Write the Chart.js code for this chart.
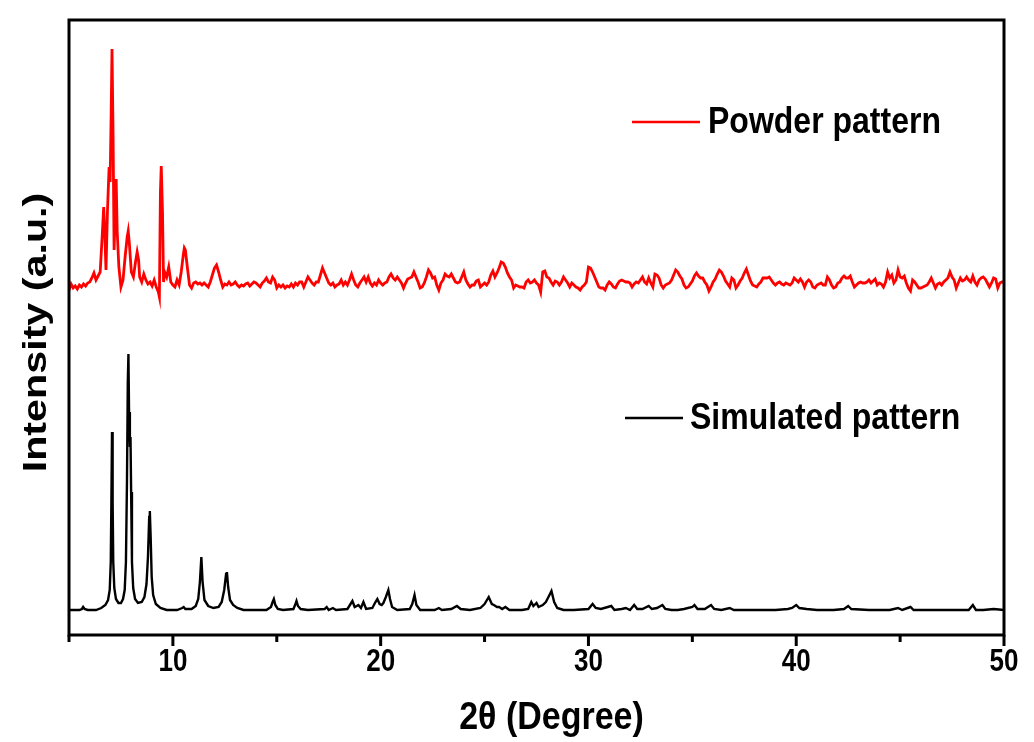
<!DOCTYPE html>
<html>
<head>
<meta charset="utf-8">
<script src="https://cdn.jsdelivr.net/npm/chart.js@4/dist/chart.umd.min.js"></script>
<style>
  html, body { margin: 0; padding: 0; background: #ffffff; }
  #wrap { width: 1034px; height: 742px; }
</style>
</head>
<body>
<div id="wrap"><canvas id="c" width="1034" height="742"></canvas></div>
<script>
// ---------------- DATA ----------------
const xTickValues = [10, 20, 30, 40, 50];
const seriesNames = ['Powder pattern', 'Simulated pattern'];
const xTitle = '2θ (Degree)';
const yTitle = 'Intensity (a.u.)';

// Powder pattern: detailed points in the strong-peak region (2θ, intensity a.u.)
const powderPeakRegion = [
  [5.0,342],[5.1,348],[5.2,344],[5.3,346],[5.4,343],[5.5,347],[5.6,345],[5.7,348],[5.8,346],[5.9,349],
  [6.0,350],[6.1,354],[6.2,359],[6.3,352],[6.4,356],[6.5,360],[6.6,397],[6.67,425],[6.72,400],[6.78,362],
  [6.85,420],[6.93,465],[6.98,450],[7.03,520],[7.07,583],[7.12,500],[7.17,382],[7.22,420],[7.27,453],[7.32,400],
  [7.4,365],[7.5,345],[7.6,352],[7.7,375],[7.8,395],[7.85,401],[7.9,390],[8.0,360],[8.1,355],[8.2,370],
  [8.28,380],[8.35,372],[8.4,355],[8.5,350],[8.6,358],[8.7,352],[8.8,348],[8.9,350],[9.0,346],[9.1,352],
  [9.2,345],[9.3,340],[9.35,335],[9.4,440],[9.44,466],[9.5,420],[9.55,350],[9.6,360],[9.7,355],[9.8,365],
  [9.9,350],[10.0,347],[10.1,345],[10.2,352],[10.3,347],[10.4,360],[10.5,377],[10.55,384],[10.6,382],[10.7,364],
  [10.8,347],[10.9,344],[11.0,349],[11.1,350],[11.2,348],[11.3,349],[11.4,347],[11.5,349],[11.6,347],[11.7,345],
  [11.8,350],[11.9,357],[12.0,364],[12.1,367],[12.2,360],[12.3,352],[12.4,345],[12.5,348],[12.6,347],[12.7,350],
  [12.8,347],[12.9,348]
];
// Powder pattern from 13.0° to 50.0°, one reading every 0.1°
const powderTailStart = 13.0;
const powderTailStep = 0.1;
const powderTail = [
  350,347,345,347,346,348,349,346,348,350,
  349,347,345,349,351,354,350,349,355,352,
  344,347,345,347,344,346,345,348,345,349,
  347,350,350,345,350,355,352,349,347,350,
  350,357,364,359,354,349,347,349,345,347,
  348,352,347,350,347,352,358,352,347,345,
  349,352,355,350,355,349,346,349,347,352,
  349,347,349,350,355,358,354,352,355,352,
  349,344,349,353,354,355,360,355,350,344,
  345,349,355,362,359,354,355,347,342,349,
  352,358,356,355,358,354,350,349,350,355,
  360,352,348,345,347,347,351,352,345,347,
  349,347,350,357,361,355,359,364,370,369,
  365,359,355,352,344,347,346,345,345,344,
  350,352,349,350,352,349,347,340,360,361,
  355,354,350,347,351,350,347,350,355,352,
  349,345,349,347,345,344,342,345,347,350,
  365,364,360,355,350,345,344,344,342,347,
  350,348,345,344,348,351,352,351,350,350,
  349,345,348,350,349,352,355,350,348,354,
  349,345,358,357,354,347,344,347,348,349,
  352,357,362,360,356,353,347,344,345,348,
  351,356,359,356,354,354,350,347,341,345,
  350,353,358,362,360,356,351,348,345,354,
  352,344,347,351,354,359,363,357,351,347,
  346,345,348,350,354,354,354,355,352,349,
  347,349,350,348,347,349,348,347,349,354,
  352,350,353,350,345,350,352,350,345,344,
  347,348,349,347,347,355,352,347,344,345,
  349,350,354,356,354,354,356,350,345,347,
  349,350,349,349,350,352,349,351,353,347,
  349,348,345,350,360,354,357,349,352,362,
  355,354,356,349,344,341,352,350,347,344,
  344,345,346,347,350,354,349,344,348,349,
  347,350,352,354,360,355,352,344,349,354,
  351,352,355,352,350,356,350,347,352,354,
  355,353,349,345,349,354,353,344,349,350,
  350
];

// Simulated pattern (2θ, intensity a.u.)
const simulated = [
  [5.0,22],[5.5,22],[5.62,23],[5.68,25],[5.75,23],[5.9,22],[6.3,22],[6.55,24],[6.75,27],[6.88,32],
  [6.96,42],[7.01,70],[7.04,130],[7.07,200],[7.1,130],[7.13,70],[7.18,44],[7.26,33],[7.38,29],[7.5,29],
  [7.6,33],[7.68,42],[7.74,70],[7.79,150],[7.83,250],[7.86,278],[7.89,220],[7.93,185],[7.96,195],[7.99,140],
  [8.03,70],[8.09,44],[8.18,33],[8.32,29],[8.5,30],[8.63,35],[8.73,48],[8.8,75],[8.86,115],[8.89,121],
  [8.93,95],[8.98,55],[9.05,37],[9.18,28],[9.4,24],[9.7,22],[10.2,22],[10.45,24],[10.52,25],[10.6,23],
  [10.9,23],[11.1,26],[11.22,33],[11.3,50],[11.37,75],[11.43,50],[11.52,32],[11.7,26],[11.95,24],[12.2,25],
  [12.35,30],[12.47,42],[12.56,58],[12.6,60],[12.66,45],[12.75,32],[12.9,27],[13.1,24],[13.4,22],[14.5,22],
  [14.72,25],[14.8,30],[14.86,33],[14.93,27],[15.05,23],[15.3,22],[15.8,23],[15.9,28],[15.95,31],[16.02,26],
  [16.15,23],[16.5,22],[17.3,23],[17.4,25],[17.5,22],[17.7,24],[17.85,22],[18.4,23],[18.55,28],[18.64,31],
  [18.75,25],[18.85,26],[18.93,27],[19.05,24],[19.17,30],[19.3,23],[19.6,24],[19.75,30],[19.84,33],[19.95,28],
  [20.05,27],[20.13,29],[20.25,35],[20.37,42],[20.45,33],[20.55,25],[20.8,22],[21.4,23],[21.52,28],[21.63,37],
  [21.72,27],[21.9,22],[22.6,22],[22.8,24],[22.95,22],[23.4,23],[23.67,26],[23.85,23],[24.3,22],[24.8,24],
  [25.0,28],[25.2,35],[25.35,28],[25.45,27],[25.6,25],[25.7,25],[25.85,23],[26.0,25],[26.2,22],[26.8,22],
  [27.1,23],[27.25,30],[27.35,26],[27.5,29],[27.6,25],[27.8,27],[27.95,30],[28.1,36],[28.22,41],[28.35,30],
  [28.5,24],[28.8,22],[29.3,22],[30.0,23],[30.2,28],[30.35,24],[30.6,23],[31.1,26],[31.25,22],[31.6,23],
  [31.8,24],[32.0,22],[32.2,27],[32.35,23],[32.6,23],[32.9,26],[33.05,23],[33.3,24],[33.56,27],[33.7,23],
  [34.0,22],[34.3,22],[34.6,23],[35.0,25],[35.1,27],[35.25,23],[35.6,23],[35.9,27],[36.05,23],[36.4,22],
  [36.8,24],[37.0,22],[38.0,22],[39.0,22],[39.6,23],[39.8,24],[40.0,27],[40.15,24],[40.5,23],[41.0,22],
  [41.8,22],[42.3,23],[42.5,26],[42.65,23],[43.5,22],[44.5,22],[44.9,24],[45.1,22],[45.5,25],[45.65,22],
  [46.5,22],[47.5,22],[48.3,22],[48.5,27],[48.65,22],[49.0,22],[49.5,23],[50.0,22]
];

// ---------------- BUILD ----------------
const powderPoints = powderPeakRegion.map(p => ({x: p[0], y: p[1]})).concat(
  powderTail.map((v, i) => ({x: +(powderTailStart + i * powderTailStep).toFixed(2), y: v}))
);
const simulatedPoints = simulated.map(p => ({x: p[0], y: p[1]}));

const FONT = "'Liberation Sans', Arial, Helvetica, sans-serif";

// draws text vertically stretched (the reference uses tall, narrow bold type)
function stretchedText(ctx, text, x, y, size, sy, align, rot) {
  ctx.save();
  ctx.translate(x, y);
  if (rot) ctx.rotate(rot);
  ctx.scale(rot ? sy : 1, rot ? 1 : sy);
  ctx.font = 'bold ' + size + 'px ' + FONT;
  ctx.fillStyle = '#000';
  ctx.textAlign = align;
  ctx.textBaseline = 'middle';
  ctx.fillText(text, 0, 0);
  ctx.restore();
}

const framePlugin = {
  id: 'frame',
  afterDraw(chart) {
    const ctx = chart.ctx;
    const a = chart.chartArea;
    const xs = chart.scales.x;
    ctx.save();
    ctx.strokeStyle = '#000';
    ctx.lineWidth = 3;
    ctx.strokeRect(a.left, a.top, a.right - a.left, a.bottom - a.top);
    xs.ticks.forEach(t => {
      const px = xs.getPixelForValue(t.value);
      const major = xTickValues.includes(t.value);
      ctx.beginPath();
      ctx.moveTo(px, a.bottom);
      ctx.lineTo(px, a.bottom + (major ? 11 : 7));
      ctx.stroke();
      if (major) stretchedText(ctx, String(t.value), px, 662, 26, 1.2, 'center', 0);
    });
    ctx.restore();
    stretchedText(ctx, xTitle, (a.left + a.right) / 2 + 15, 718, 34, 1.15, 'center', 0);
    stretchedText(ctx, yTitle, 37, (a.top + a.bottom) / 2 + 5, 33, 1.25, 'center', -Math.PI / 2);
  }
};

const legendPlugin = {
  id: 'customLegend',
  afterDraw(chart, args, opts) {
    const ctx = chart.ctx;
    opts.items.forEach(it => {
      const ds = chart.data.datasets[it.index];
      ctx.save();
      ctx.strokeStyle = ds.borderColor;
      ctx.lineWidth = 2.5;
      ctx.beginPath();
      ctx.moveTo(it.x0, it.y);
      ctx.lineTo(it.x1, it.y);
      ctx.stroke();
      ctx.restore();
      stretchedText(ctx, ds.label, it.tx, it.y + 1, 32, 1.15, 'left', 0);
    });
  }
};

new Chart(document.getElementById('c'), {
  type: 'line',
  data: {
    datasets: [
      {
        label: seriesNames[0],
        data: powderPoints,
        borderColor: '#ff0000',
        borderWidth: 2.8,
        pointRadius: 0,
        tension: 0,
        fill: false
      },
      {
        label: seriesNames[1],
        data: simulatedPoints,
        borderColor: '#000000',
        borderWidth: 2.4,
        pointRadius: 0,
        tension: 0,
        fill: false
      }
    ]
  },
  options: {
    responsive: false,
    animation: false,
    layout: { padding: { top: 20, right: 30, left: 0, bottom: 0 } },
    plugins: {
      legend: { display: false },
      tooltip: { enabled: false },
      customLegend: {
        items: [
          { index: 0, x0: 632, x1: 700, tx: 708, y: 122 },
          { index: 1, x0: 625, x1: 683, tx: 690, y: 418 }
        ]
      }
    },
    scales: {
      x: {
        type: 'linear',
        min: 5,
        max: 50,
        afterFit(s) { s.height = 107; },
        grid: { display: false, drawTicks: false },
        border: { display: false },
        ticks: { stepSize: 5, display: false },
        title: { display: false }
      },
      y: {
        type: 'linear',
        min: -3,
        max: 612,
        afterFit(s) { s.width = 69; },
        grid: { display: false, drawTicks: false },
        border: { display: false },
        ticks: { display: false },
        title: { display: false }
      }
    }
  },
  plugins: [framePlugin, legendPlugin]
});
</script>
</body>
</html>
